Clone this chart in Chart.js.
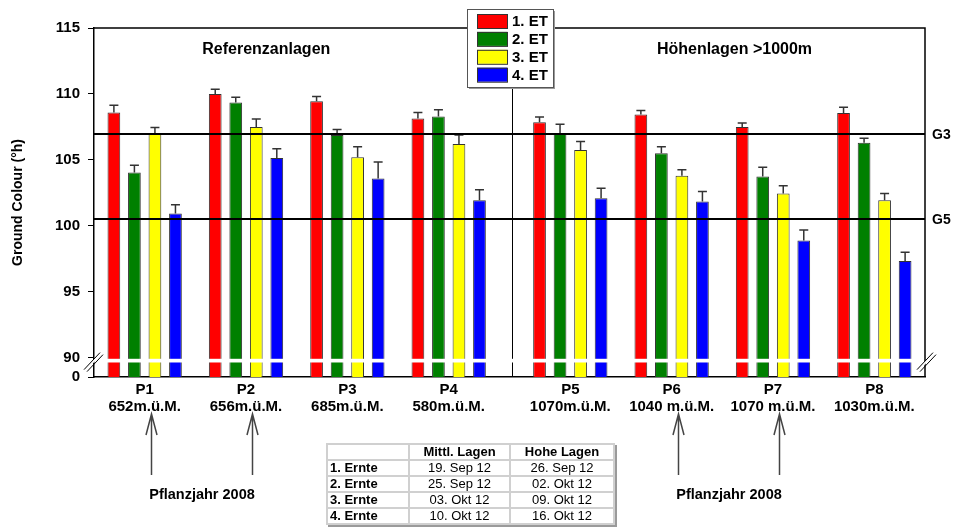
<!DOCTYPE html>
<html>
<head>
<meta charset="utf-8">
<title>Ground Colour</title>
<script src="https://cdn.jsdelivr.net/npm/chart.js@4.4.0/dist/chart.umd.min.js"></script>
<style>
body { margin: 0; background: #fff; }
#wrap { position: relative; width: 954px; height: 527px; }
#ernte {
  position: absolute; left: 326px; top: 443px;
  border-collapse: collapse;
  font-family: "Liberation Sans", Arial, sans-serif; font-size: 13px; color: #000;
  border: 1px solid #808080;
  box-shadow: 2px 2px 0 #9a9a9a;
  background: #fff;
}
#ernte td { border: 2px solid #d0d0d0; height: 12px; line-height: 12px; padding: 1px 2px; text-align: center; }
#ernte td.h { font-weight: bold; }
#ernte td.r { font-weight: bold; text-align: left; }
</style>
<script>
// categories
var plots   = ['P1', 'P2', 'P3', 'P4', 'P5', 'P6', 'P7', 'P8'];
var heights = ['652m.ü.M.', '656m.ü.M.', '685m.ü.M.', '580m.ü.M.', '1070m.ü.M.', '1040 m.ü.M.', '1070 m.ü.M.', '1030m.ü.M.'];
var plotPos = [1, 2, 3, 4, 5.2, 6.2, 7.2, 8.2];   // second group sits a little apart

// series (mean + upper error)
var seriesNames = ['1. ET', '2. ET', '3. ET', '4. ET'];
var et1    = [108.6, 110.0, 109.45, 108.15, 107.85, 108.45, 107.5, 108.55];
var et1Err = [0.55, 0.35, 0.35, 0.45, 0.4, 0.3, 0.3, 0.45];
var et2    = [104.05, 109.35, 106.9, 108.3, 107.0, 105.5, 103.75, 106.3];
var et2Err = [0.55, 0.4, 0.4, 0.5, 0.7, 0.5, 0.7, 0.35];
var et3    = [107.0, 107.5, 105.2, 106.2, 105.75, 103.8, 102.45, 101.95];
var et3Err = [0.45, 0.6, 0.8, 0.7, 0.65, 0.45, 0.6, 0.5];
var et4    = [100.95, 105.15, 103.6, 101.95, 102.1, 101.85, 98.9, 97.35];
var et4Err = [0.65, 0.7, 1.25, 0.8, 0.75, 0.75, 0.8, 0.65];

// y axis (broken: bottom tick stands for 0)
var yTicks      = [88.55, 90, 95, 100, 105, 110, 115];
var yTickLabels = ['0', '90', '95', '100', '105', '110', '115'];

var limitNames  = ['G3', 'G5'];
var limitValues = [107, 100.5];

var regionNames = ['Referenzanlagen', 'Höhenlagen >1000m'];
var pflanzText = 'Pflanzjahr 2008';
var pflanzGroups = [['P1', 'P2'], ['P6', 'P7']];

// harvest table
var tableHead   = ['', 'Mittl. Lagen', 'Hohe Lagen'];
var ernten      = ['1. Ernte', '2. Ernte', '3. Ernte', '4. Ernte'];
var mittlDates  = ['19. Sep 12', '25. Sep 12', '03. Okt 12', '10. Okt 12'];
var hoheDates   = ['26. Sep 12', '02. Okt 12', '09. Okt 12', '16. Okt 12'];
</script>
</head>
<body>
<div id="wrap">
  <canvas id="myChart" width="954" height="527"></canvas>
  <table id="ernte"></table>
</div>
<script>
var FONT = '"Liberation Sans", Arial, sans-serif';
Chart.defaults.font.family = FONT;
Chart.defaults.font.weight = 'bold';
Chart.defaults.color = '#000';

var colors = ['#ff0000', '#008000', '#ffff00', '#0000ff'];
var values = [et1, et2, et3, et4];
var errs = [et1Err, et2Err, et3Err, et4Err];

var datasets = [];
for (var i = 0; i < 4; i++) {
  datasets.push({
    label: seriesNames[i],
    data: plotPos.map(function (x, k) { return { x: x, y: values[i][k] }; }),
    errors: errs[i],
    backgroundColor: colors[i],
    borderColor: '#333',
    borderWidth: 1,
    categoryPercentage: 0.81,
    barPercentage: 0.62
  });
}

var decor = {
  id: 'decor',
  afterDatasetsDraw: function (chart) {
    var ctx = chart.ctx, a = chart.chartArea;
    var xs = chart.scales.x, ys = chart.scales.y;
    ctx.save();
    ctx.strokeStyle = '#000';

    // top and right frame
    ctx.lineWidth = 1.5;
    ctx.beginPath();
    ctx.moveTo(a.left, a.top); ctx.lineTo(a.right, a.top); ctx.lineTo(a.right, a.bottom);
    ctx.stroke();

    // group separator
    var sx = Math.round(xs.getPixelForValue(4.62)) + 0.5;
    ctx.lineWidth = 1;
    ctx.beginPath(); ctx.moveTo(sx, a.top); ctx.lineTo(sx, a.bottom); ctx.stroke();

    // error bars (upper only)
    ctx.strokeStyle = '#333';
    ctx.lineWidth = 1.5;
    chart.data.datasets.forEach(function (ds, di) {
      var meta = chart.getDatasetMeta(di);
      meta.data.forEach(function (bar, k) {
        var yt = ys.getPixelForValue(ds.data[k].y + ds.errors[k]);
        ctx.beginPath();
        ctx.moveTo(bar.x, bar.y); ctx.lineTo(bar.x, yt);
        ctx.moveTo(bar.x - 4.5, yt); ctx.lineTo(bar.x + 4.5, yt);
        ctx.stroke();
      });
    });

    // limit lines
    ctx.strokeStyle = '#000';
    ctx.lineWidth = 2;
    ctx.fillStyle = '#000';
    ctx.font = 'bold 14px ' + FONT;
    ctx.textAlign = 'left';
    ctx.textBaseline = 'middle';
    limitValues.forEach(function (v, k) {
      var y = Math.round(ys.getPixelForValue(v));
      ctx.beginPath(); ctx.moveTo(a.left, y); ctx.lineTo(a.right, y); ctx.stroke();
      ctx.fillText(limitNames[k], a.right + 7, y + 1);
    });

    // axis break band
    var b1 = ys.getPixelForValue(89.93), b2 = ys.getPixelForValue(89.65);
    ctx.fillStyle = '#fff';
    ctx.fillRect(a.left + 1, b1, a.right - a.left - 2, b2 - b1);

    // break marks on both axes
    var by = (b1 + b2) / 2;
    [a.left - 1, a.right + 1].forEach(function (x) {
      ctx.fillStyle = '#fff';
      ctx.beginPath();
      ctx.moveTo(x - 9, by + 9); ctx.lineTo(x + 6, by - 7); ctx.lineTo(x + 9, by - 7); ctx.lineTo(x - 6, by + 9);
      ctx.closePath(); ctx.fill();
      ctx.strokeStyle = '#000';
      ctx.lineWidth = 1;
      ctx.beginPath();
      ctx.moveTo(x - 9, by + 9); ctx.lineTo(x + 7, by - 8);
      ctx.moveTo(x - 6, by + 11); ctx.lineTo(x + 10, by - 6);
      ctx.stroke();
    });
    ctx.restore();
  },
  afterDraw: function (chart) {
    var ctx = chart.ctx, a = chart.chartArea;
    var xs = chart.scales.x;
    ctx.save();

    // region titles
    ctx.fillStyle = '#000';
    ctx.font = 'bold 16px ' + FONT;
    ctx.textAlign = 'center';
    ctx.textBaseline = 'middle';
    ctx.fillText(regionNames[0], xs.getPixelForValue(2.2), 50);
    ctx.fillText(regionNames[1], xs.getPixelForValue(6.82), 50);

    // legend box
    var lx = 467, ly = 9, lw = 86, lh = 78;
    ctx.fillStyle = '#9a9a9a';
    ctx.fillRect(lx + 2, ly + 2, lw, lh);
    ctx.fillStyle = '#fff';
    ctx.fillRect(lx, ly, lw, lh);
    ctx.strokeStyle = '#555';
    ctx.lineWidth = 1;
    ctx.strokeRect(lx + 0.5, ly + 0.5, lw, lh);
    ctx.font = 'bold 15px ' + FONT;
    ctx.textAlign = 'left';
    chart.data.datasets.forEach(function (ds, k) {
      var cy = ly + 12 + k * 17.9;
      ctx.fillStyle = ds.backgroundColor;
      ctx.fillRect(lx + 10, cy - 7, 30, 14);
      ctx.strokeStyle = '#333';
      ctx.strokeRect(lx + 10.5, cy - 6.5, 30, 14);
      ctx.fillStyle = '#000';
      ctx.fillText(ds.label, lx + 45, cy + 1);
    });

    // planting-year arrows
    ctx.strokeStyle = '#444';
    ctx.lineWidth = 1.5;
    ctx.font = 'bold 14.5px ' + FONT;
    ctx.textAlign = 'center';
    pflanzGroups.forEach(function (grp) {
      var xsum = 0;
      grp.forEach(function (p) {
        var x = Math.round(xs.getPixelForValue(plotPos[plots.indexOf(p)])) + 6.5;
        xsum += x;
        ctx.beginPath();
        ctx.moveTo(x, 475); ctx.lineTo(x, 414);
        ctx.moveTo(x - 5.5, 435); ctx.lineTo(x, 414); ctx.lineTo(x + 5.5, 435);
        ctx.stroke();
      });
      ctx.fillStyle = '#000';
      ctx.fillText(pflanzText, xsum / grp.length, 495);
    });
    ctx.restore();
  }
};

new Chart(document.getElementById('myChart').getContext('2d'), {
  type: 'bar',
  data: { datasets: datasets },
  plugins: [decor],
  options: {
    responsive: false,
    animation: false,
    layout: { padding: { left: 0, top: 28, right: 29, bottom: 0 } },
    plugins: { legend: { display: false }, tooltip: { enabled: false } },
    scales: {
      x: {
        type: 'linear',
        min: 0.5,
        max: 8.7,
        offset: false,
        grid: { display: false, drawTicks: false, offset: false },
        border: { display: true, color: '#000', width: 1.5 },
        afterBuildTicks: function (scale) {
          scale.ticks = plotPos.map(function (v) { return { value: v }; });
        },
        afterFit: function (scale) { scale.height = 150; },
        ticks: {
          padding: 4,
          maxRotation: 0,
          autoSkip: false,
          font: { size: 15, weight: 'bold', lineHeight: 1.15 },
          callback: function (v, k) { return [plots[k], heights[k]]; }
        }
      },
      y: {
        min: yTicks[0],
        max: 115,
        grid: { drawOnChartArea: false, drawTicks: true, tickLength: 6, color: '#000' },
        border: { display: true, color: '#000', width: 1.5 },
        afterBuildTicks: function (scale) {
          scale.ticks = yTicks.map(function (v) { return { value: v }; });
        },
        afterFit: function (scale) { scale.width = 94; },
        ticks: {
          padding: 8,
          autoSkip: false,
          font: { size: 15, weight: 'bold' },
          callback: function (v, k) { return yTickLabels[k]; }
        },
        title: {
          display: true,
          text: 'Ground Colour (°h)',
          font: { size: 14, weight: 'bold' },
          padding: { top: 10, bottom: 0 }
        }
      }
    }
  }
});

// harvest table
var tbl = document.getElementById('ernte');
var html = '<tr>' + tableHead.map(function (h) { return '<td class="h">' + h + '</td>'; }).join('') + '</tr>';
ernten.forEach(function (e, k) {
  html += '<tr><td class="r">' + e + '</td><td>' + mittlDates[k] + '</td><td>' + hoheDates[k] + '</td></tr>';
});
tbl.innerHTML = html;
var widths = [76, 95, 98];
Array.prototype.forEach.call(tbl.rows[0].cells, function (c, k) { c.style.width = widths[k] + 'px'; });
</script>
</body>
</html>
